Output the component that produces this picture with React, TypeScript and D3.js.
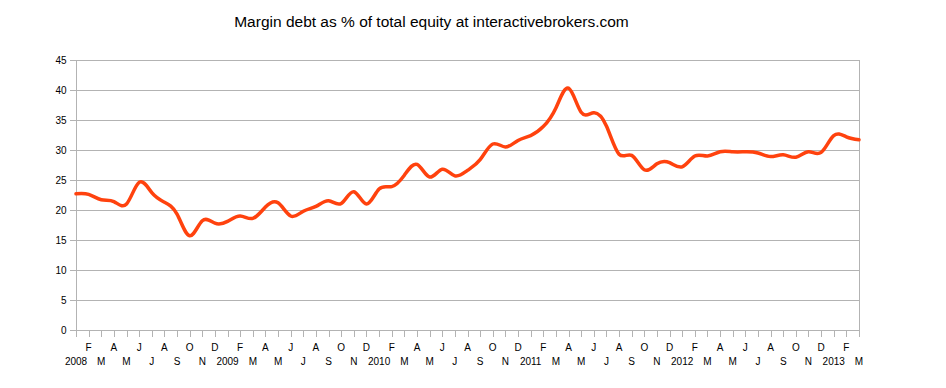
import React from "react";
import * as d3 from "d3";

// monthly values, Jan 2008 .. Mar 2013
const years = [2008, 2009, 2010, 2011, 2012, 2013];
const monthLetters = ["J", "F", "M", "A", "M", "J", "J", "A", "S", "O", "N", "D"];

const values2008 = [22.7, 22.6, 21.7, 21.4, 21.0, 24.6, 22.9, 21.3, 19.3, 15.7, 18.2, 17.8];
const values2009 = [18.1, 19.0, 18.6, 20.5, 21.2, 19.0, 19.8, 20.6, 21.55, 21.1, 23.05, 21.0];
const values2010 = [23.5, 23.9, 25.8, 27.6, 25.5, 26.8, 25.7, 26.6, 28.4, 31.0, 30.5, 31.6];
const values2011 = [32.4, 33.9, 37.0, 40.3, 36.3, 36.2, 34.0, 29.3, 29.1, 26.7, 27.7, 27.9];
const values2012 = [27.2, 29.0, 29.0, 29.7, 29.7, 29.7, 29.5, 28.9, 29.2, 28.8, 29.7, 29.6];
const values2013 = [32.4, 32.2, 31.7];

const values = [
  ...values2008,
  ...values2009,
  ...values2010,
  ...values2011,
  ...values2012,
  ...values2013,
];

const yTicks = [0, 5, 10, 15, 20, 25, 30, 35, 40, 45];

const labels = values.map((_, i) =>
  i % 12 === 0 ? String(years[Math.floor(i / 12)]) : monthLetters[i % 12]
);

const title = "Margin debt as % of total equity at interactivebrokers.com";

export default function App() {
  const width = 946;
  const height = 388;
  const margin = { top: 60, right: 87, bottom: 58, left: 76 };

  const x = d3
    .scaleLinear()
    .domain([0, values.length - 1])
    .range([margin.left, width - margin.right]);
  const y = d3
    .scaleLinear()
    .domain([0, 45])
    .range([height - margin.bottom, margin.top]);

  const line = d3
    .line<number>()
    .x((_, i) => x(i))
    .y((d) => y(d))
    .curve(d3.curveNatural);

  const font = "'Liberation Sans', Arial, sans-serif";
  const grid = "#b3b3b3";

  return (
    <svg
      width={width}
      height={height}
      style={{ position: "absolute", left: 0, top: 0, background: "#fff" }}
      fontFamily={font}
    >
      <text x={431.5} y={26.5} textAnchor="middle" fontSize={15.5} fill="#000">
        {title}
      </text>

      {/* horizontal grid + y ticks */}
      {yTicks.map((t) => (
        <g key={t}>
          <line
            x1={margin.left - 6}
            x2={width - margin.right}
            y1={Math.round(y(t)) + 0.5}
            y2={Math.round(y(t)) + 0.5}
            stroke={grid}
          />
          <text
            x={66.5}
            y={y(t)}
            dy="0.35em"
            textAnchor="end"
            fontSize={10}
            fill="#000"
          >
            {t}
          </text>
        </g>
      ))}

      {/* walls */}
      <line
        x1={margin.left + 0.5}
        x2={margin.left + 0.5}
        y1={y(45)}
        y2={y(0) + 7}
        stroke={grid}
      />
      <line
        x1={Math.round(width - margin.right) + 0.5}
        x2={Math.round(width - margin.right) + 0.5}
        y1={y(45)}
        y2={y(0) + 7}
        stroke={grid}
      />

      {/* x ticks and labels */}
      {labels.map((l, i) => (
        <g key={i}>
          <line
            x1={Math.round(x(i)) + 0.5}
            x2={Math.round(x(i)) + 0.5}
            y1={y(0)}
            y2={y(0) + 7}
            stroke={grid}
          />
          <text
            x={x(i)}
            y={i % 2 === 0 ? 365 : 350.5}
            textAnchor="middle"
            fontSize={10}
            fill="#000"
          >
            {l}
          </text>
        </g>
      ))}

      <path
        d={line(values) ?? ""}
        fill="none"
        stroke="#ff420e"
        strokeWidth={3.5}
        strokeLinejoin="round"
        strokeLinecap="round"
      />
    </svg>
  );
}
